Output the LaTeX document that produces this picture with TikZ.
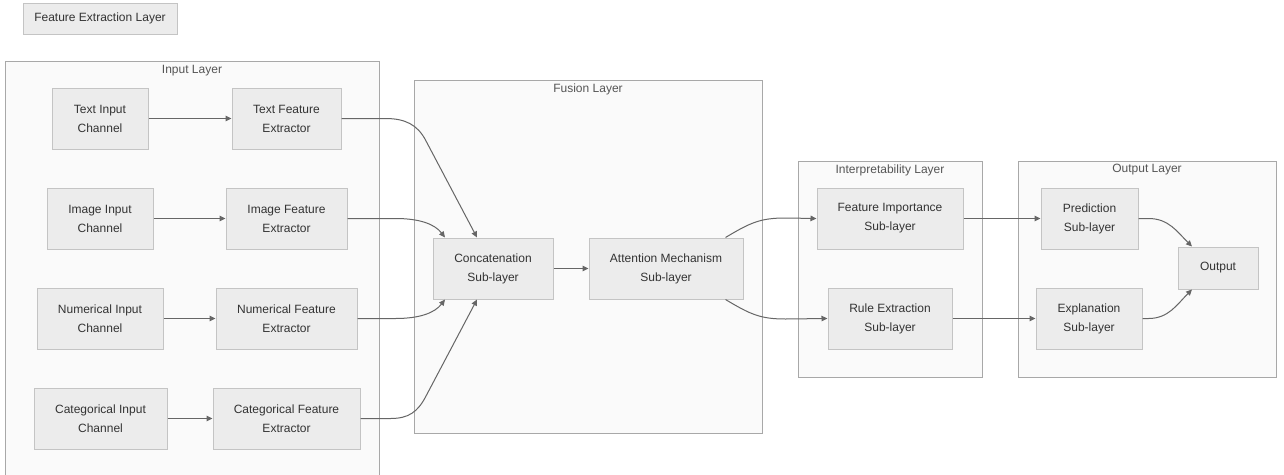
\documentclass[tikz,border=0pt]{standalone}
\usepackage{fontspec}
\setmainfont{Liberation Sans}
\usetikzlibrary{arrows.meta}
\definecolor{boxfill}{HTML}{ECECEC}
\definecolor{boxline}{HTML}{C4C4C4}
\definecolor{clfill}{HTML}{FAFAFA}
\definecolor{clline}{HTML}{A8A8A8}
\definecolor{txt}{HTML}{333333}
\definecolor{cltxt}{HTML}{555555}
\definecolor{arrc}{HTML}{666666}
\tikzset{
  box/.style={draw=boxline, fill=boxfill, line width=1pt, inner sep=0pt, align=center,
    text=txt, font=\fontsize{12}{19}\selectfont, minimum height=61pt},
  cluster/.style={draw=clline, fill=clfill, line width=1pt, inner sep=0pt},
  clabel/.style={text=cltxt, font=\fontsize{12}{19}\selectfont, inner sep=0pt},
  arr/.style={draw=arrc, line width=1pt, -{Triangle[length=6pt,width=5.5pt]}},
}
\begin{document}
\begin{tikzpicture}[x=1pt,y=-1pt]
\useasboundingbox[fill=white] (0,0) rectangle (1284,474);
% clusters
\node[cluster, minimum width=374pt, minimum height=439pt] (inlayer) at (192,280.5) {};
\node[cluster, minimum width=348pt, minimum height=353pt] (fusion) at (588,256.5) {};
\node[cluster, minimum width=184pt, minimum height=216pt] (interp) at (890,269) {};
\node[cluster, minimum width=258pt, minimum height=216pt] (outlayer) at (1147,269) {};
\node[clabel] (inlabel) at (192,71) {Input Layer};
\node[clabel] (fuslabel) at (588,89) {Fusion Layer};
\node[clabel] (intlabel) at (890,170) {Interpretability Layer};
\node[clabel] (outlabel) at (1147,170) {Output Layer};
% top box
\node[box, minimum width=154pt, minimum height=31pt] (fel) at (100,18.5) {Feature Extraction Layer};
% input layer
\node[box, minimum width=96pt] (tic) at (100,118.5) {Text Input\\Channel};
\node[box, minimum width=109pt] (tfe) at (286.5,118.5) {Text Feature\\Extractor};
\node[box, minimum width=106pt] (iic) at (100,218.5) {Image Input\\Channel};
\node[box, minimum width=121pt] (ife) at (286.5,218.5) {Image Feature\\Extractor};
\node[box, minimum width=126pt] (nic) at (100,318.5) {Numerical Input\\Channel};
\node[box, minimum width=141pt] (nfe) at (286.5,318.5) {Numerical Feature\\Extractor};
\node[box, minimum width=133pt] (cic) at (100.5,418.5) {Categorical Input\\Channel};
\node[box, minimum width=147pt] (cfe) at (286.5,418.5) {Categorical Feature\\Extractor};
% fusion
\node[box, minimum width=120pt] (concat) at (493,268.5) {Concatenation\\Sub-layer};
\node[box, minimum width=154pt] (attn) at (666,268.5) {Attention Mechanism\\Sub-layer};
% interpretability
\node[box, minimum width=146pt] (fi) at (890,218.5) {Feature Importance\\Sub-layer};
\node[box, minimum width=124pt] (re) at (890,318.5) {Rule Extraction\\Sub-layer};
% output
\node[box, minimum width=97pt] (pred) at (1089.5,218.5) {Prediction\\Sub-layer};
\node[box, minimum width=106pt] (expl) at (1089,318.5) {Explanation\\Sub-layer};
\node[box, minimum width=80pt, minimum height=42pt] (out) at (1218,268) {Output};
% arrows
\draw[arr] (tic.east) -- (tfe.west);
\draw[arr] (iic.east) -- (ife.west);
\draw[arr] (nic.east) -- (nfe.west);
\draw[arr] (cic.east) -- (cfe.west);
\draw[arr] (tfe.east) -- ++(44,0) .. controls +(20,0) and +(-8,-15) .. ++(40,21.5) -- ([xshift=-16pt]concat.north);
\draw[arr] (ife.east) -- ++(48,0) .. controls +(25,0) and +(-10,-13) .. ([xshift=-48pt]concat.north);
\draw[arr] (nfe.east) -- ++(38,0) .. controls +(25,0) and +(-10,13) .. ([xshift=-48pt]concat.south);
\draw[arr] (cfe.east) -- ++(30,0) .. controls +(18,0) and +(-8,15) .. ++(35,-21.5) -- ([xshift=-16pt]concat.south);
\draw[arr] (concat.east) -- (attn.west);
\draw[arr] ([xshift=-18pt]attn.north east) .. controls +(25,-15) and +(-25,0) .. ++(60,-19.5) -- (fi.west);
\draw[arr] ([xshift=-18pt]attn.south east) .. controls +(25,15) and +(-25,0) .. ++(60,19.5) -- (re.west);
\draw[arr] (fi.east) -- (pred.west);
\draw[arr] (re.east) -- (expl.west);
\draw[arr] (pred.east) -- ++(10,0) .. controls +(20,0) and +(-15,-15) .. ([xshift=-26pt]out.north);
\draw[arr] (expl.east) -- ++(6,0) .. controls +(20,0) and +(-15,15) .. ([xshift=-26pt]out.south);
\end{tikzpicture}
\end{document}
